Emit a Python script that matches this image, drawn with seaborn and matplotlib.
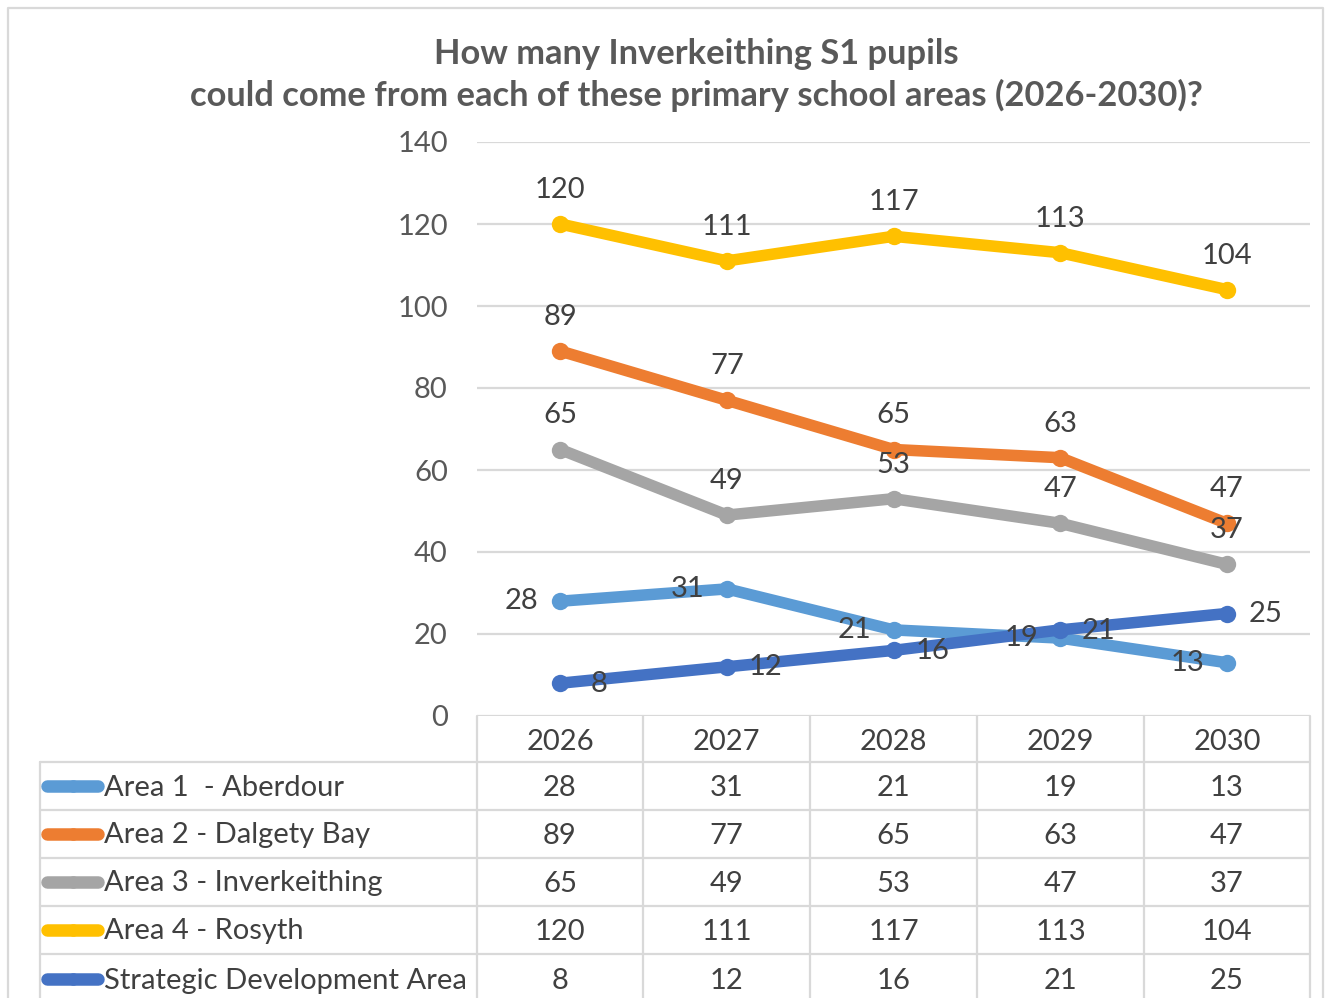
import matplotlib
matplotlib.use("Agg")
import matplotlib.pyplot as plt
from matplotlib.lines import Line2D
import seaborn as sns
import pandas as pd

years = ["2026", "2027", "2028", "2029", "2030"]
series_names = [
    "Area 1  - Aberdour",
    "Area 2 - Dalgety Bay",
    "Area 3 - Inverkeithing",
    "Area 4 - Rosyth",
    "Strategic Development Area",
]
area1 = [28, 31, 21, 19, 13]
area2 = [89, 77, 65, 63, 47]
area3 = [65, 49, 53, 47, 37]
area4 = [120, 111, 117, 113, 104]
strategic = [8, 12, 16, 21, 25]
series_values = [area1, area2, area3, area4, strategic]

colors = ["#5B9BD5", "#ED7D31", "#A5A5A5", "#FFC000", "#4472C4"]
label_pos = ["left", "above", "above", "above", "right"]

title = "How many Inverkeithing S1 pupils\ncould come from each of these primary school areas (2026-2030)?"

sns.set_theme(style="white")
plt.rcParams["font.family"] = ["Lato", "DejaVu Sans"]

W, H = 1325, 998
fig = plt.figure(figsize=(W / 100, H / 100), dpi=100)
fig.patch.set_facecolor("white")


def fx(x):
    return x / W


def fy(y):
    return 1 - y / H


GRID = "#D9D9D9"
TXT = "#404040"
AX_TXT = "#595959"
FS = 21

# plot area aligned with the data-table columns
x0, x1, ytop, ybot = 477, 1310, 142, 716
ax = fig.add_axes([fx(x0), fy(ybot), fx(x1) - fx(x0), fy(ytop) - fy(ybot)])
ax.set_xlim(-0.5, len(years) - 0.5)
ax.set_ylim(0, 140)
ax.set_yticks(range(0, 141, 20))
ax.set_xticks([])
ax.grid(axis="y", color=GRID, linewidth=1.6)
ax.set_axisbelow(True)
for s in ax.spines.values():
    s.set_visible(False)
ax.tick_params(axis="y", length=0, pad=21, labelsize=FS, labelcolor=AX_TXT)

rows = []
for name, vals in zip(series_names, series_values):
    for i, v in enumerate(vals):
        rows.append({"series": name, "xi": i, "value": v})
df = pd.DataFrame(rows)

sns.lineplot(
    data=df, x="xi", y="value", hue="series", hue_order=series_names,
    palette=dict(zip(series_names, colors)), marker="o", markersize=12.5,
    markeredgewidth=0, linewidth=8.3, legend=False, ax=ax, sort=False,
    solid_capstyle="round",
)
ax.set_xlabel("")
ax.set_ylabel("")

# data labels
for vals, pos in zip(series_values, label_pos):
    for i, v in enumerate(vals):
        if pos == "above":
            off = (0, 24.5)
        elif pos == "left":
            off = (-28, 0)
        else:
            off = (28, -0.5)
        ax.annotate(str(v), (i, v), xytext=off, textcoords="offset points",
                    ha="center", va="center", fontsize=FS, color=TXT)

# title
fig.text(fx(696), fy(75), title, ha="center", va="center", fontsize=24.8,
         fontweight="bold", color=AX_TXT, linespacing=1.36)

# data table
col_edges = [477, 643, 810, 977, 1144, 1310]
row_edges = [762, 810, 858, 906, 954, 1002]
lw = 1.6


def hline(y, xa, xb):
    fig.add_artist(Line2D([fx(xa), fx(xb)], [fy(y), fy(y)], color=GRID, lw=lw))


def vline(x, ya, yb):
    fig.add_artist(Line2D([fx(x), fx(x)], [fy(ya), fy(yb)], color=GRID, lw=lw))


for y in row_edges[:-1]:
    hline(y, 40, 1310)
vline(40, 762, 1002)
for x in col_edges:
    vline(x, 716, 1002)

centers = [(col_edges[k] + col_edges[k + 1]) / 2 for k in range(len(years))]
for cx, yr in zip(centers, years):
    fig.text(fx(cx), fy(742), yr, ha="center", va="center", fontsize=FS, color=TXT)

for r, (name, vals, col) in enumerate(zip(series_names, series_values, colors)):
    cy = (row_edges[r] + row_edges[r + 1]) / 2
    ty = cy - 0.5 if r < 4 else 979
    fig.add_artist(Line2D([fx(47), fx(98)], [fy(ty), fy(ty)], color=col, lw=9,
                          solid_capstyle="round"))
    fig.add_artist(Line2D([fx(73)], [fy(ty)], color=col, marker="o",
                          markersize=9, markeredgewidth=0))
    fig.text(fx(104), fy(ty + 2), name, ha="left", va="center", fontsize=FS, color=TXT)
    for cx, v in zip(centers, vals):
        fig.text(fx(cx), fy(ty + 2), str(v), ha="center", va="center", fontsize=FS, color=TXT)

# chart-area border
fig.add_artist(Line2D([fx(8), fx(8), fx(1323), fx(1323)],
                      [fy(1005), fy(8), fy(8), fy(1005)], color=GRID, lw=1.6))

fig.savefig("out.png", dpi=100, facecolor="white")
